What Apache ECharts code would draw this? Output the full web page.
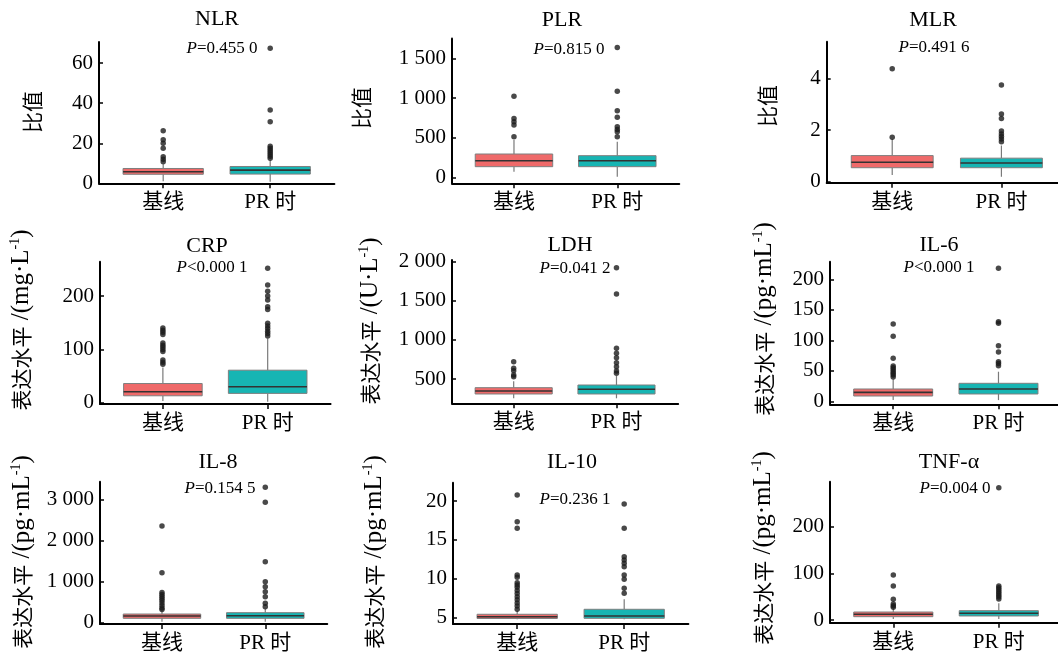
<!DOCTYPE html>
<html><head><meta charset="utf-8">
<script src="https://cdn.jsdelivr.net/npm/echarts@6/dist/echarts.min.js"></script>
<style>html,body{margin:0;padding:0;background:#fff}#c{width:1058px;height:661px}</style>
</head><body><div id="c"></div>
<script>
// ---------- data ----------
const groups = ['基线', 'PR 时'];
const titles = ['NLR', 'PLR', 'MLR', 'CRP', 'LDH', 'IL-6', 'IL-8', 'IL-10', 'TNF-α'];
const pValues = ['=0.455 0', '=0.815 0', '=0.491 6', '<0.000 1', '=0.041 2', '<0.000 1', '=0.154 5', '=0.236 1', '=0.004 0'];
const ratioName = '比值';
const levelName = '表达水平';
const units = [null, null, null, 'mg·L', 'U·L', 'pg·mL', 'pg·mL', 'pg·mL', 'pg·mL'];

// box stats: [lower whisker, Q1, median, Q3, upper whisker]
const nlrBase = [1.0, 4.5, 5.8, 7.4, 9.5];
const nlrPR = [0.8, 4.6, 6.6, 8.4, 11.5];
const nlrBaseOut = [26.2, 21.7, 20.0, 17.5, 13.3, 12.0, 10.8];
const nlrPROut = [67.5, 36.6, 30.8, 18.5, 17.5, 16.5, 15.5, 14.5, 13.5, 12.5];

const plrBase = [71, 134, 209, 294, 470];
const plrPR = [8, 134, 209, 273, 449];
const plrBaseOut = [1025, 744, 701, 660, 512];
const plrPROut = [1639, 1088, 840, 757, 638, 605, 575, 512];

const mlrBase = [0.26, 0.54, 0.75, 1.01, 1.65];
const mlrPR = [0.19, 0.54, 0.72, 0.91, 1.4];
const mlrBaseOut = [4.37, 1.72];
const mlrPROut = [3.74, 2.62, 2.45, 1.96, 1.85, 1.75, 1.65, 1.55];

const crpBase = [3, 13, 20.6, 36, 66];
const crpPR = [2, 17.5, 30, 61, 120.6];
const crpBaseOut = [140, 136, 132, 128, 112, 108, 104, 100, 96, 80, 76, 72];
const crpPROut = [252, 220.6, 209, 200, 192.5, 180, 175, 149, 144, 139, 134, 130, 125];

const ldhBase = [253, 308, 347, 389, 470];
const ldhPR = [253, 308, 368, 423, 540];
const ldhBaseOut = [721, 637, 606, 551, 529];
const ldhPROut = [1923, 1587, 893, 829, 772, 708, 657, 602, 573];

const il6Base = [2, 8.7, 14.7, 20.2, 36];
const il6PR = [2, 12, 20.2, 29.5, 48.5];
const il6BaseOut = [126.7, 106.5, 70.5, 58, 55, 52, 49, 46, 43, 40];
const il6PROut = [218, 130.5, 127.9, 91, 81, 65, 62, 58.4];

const il8Base = [20, 107, 163, 212, 280];
const il8PR = [20, 107, 171, 245, 340];
const il8BaseOut = [2364, 1222, 740, 690, 640, 590, 540, 480, 420, 360, 320];
const il8PROut = [3310, 2943, 1491, 1002, 880, 758, 636, 474, 391];

const il10Base = [4.8, 4.9, 5.13, 5.44, 5.9];
const il10PR = [4.8, 4.92, 5.22, 6.08, 7.36];
const il10BaseOut = [20.77, 17.34, 16.49, 10.5, 10.2, 9.5, 9.2, 8.9, 8.5, 8.1, 7.7, 7.3, 6.9, 6.5, 6.1];
const il10PROut = [19.6, 16.49, 12.84, 12.42, 11.99, 11.56, 10.49, 9.93, 8.78, 8.14];

const tnfBase = [2, 7.1, 12.2, 17.1, 25];
const tnfPR = [2, 8.6, 14.3, 20, 35.7];
const tnfBaseOut = [96.4, 72.8, 44.3, 34.3, 30.6, 27.2];
const tnfPROut = [283, 73, 69, 65, 61, 57, 53, 49, 45];

// tick labels
const nlrTicks = [0, 20, 40, 60];
const plrTicks = [0, 500, 1000, 1500];
const mlrTicks = [0, 2, 4];
const crpTicks = [0, 100, 200];
const ldhTicks = [500, 1000, 1500, 2000];
const il6Ticks = [0, 50, 100, 150, 200];
const il8Ticks = [0, 1000, 2000, 3000];
const il10Ticks = [5, 10, 15, 20];
const tnfTicks = [0, 100, 200];

// ---------- layout ----------
const stats = [
  [nlrBase, nlrPR, nlrBaseOut, nlrPROut, nlrTicks],
  [plrBase, plrPR, plrBaseOut, plrPROut, plrTicks],
  [mlrBase, mlrPR, mlrBaseOut, mlrPROut, mlrTicks],
  [crpBase, crpPR, crpBaseOut, crpPROut, crpTicks],
  [ldhBase, ldhPR, ldhBaseOut, ldhPROut, ldhTicks],
  [il6Base, il6PR, il6BaseOut, il6PROut, il6Ticks],
  [il8Base, il8PR, il8BaseOut, il8PROut, il8Ticks],
  [il10Base, il10PR, il10BaseOut, il10PROut, il10Ticks],
  [tnfBase, tnfPR, tnfBaseOut, tnfPROut, tnfTicks]
];
// left, top, bottom, spacing, ymin, ymax, title xy, p xy, name xy
const layout = [
  {l: 99, t: 42, b: 183.3, s: 107, y0: 0, y1: 70.6, tt: [217, 19], pp: [222, 49], nm: [32, 112]},
  {l: 452, t: 38.5, b: 183.3, s: 103.3, y0: -76, y1: 1753, tt: [562, 20], pp: [569, 50], nm: [361, 108]},
  {l: 826.7, t: 41.7, b: 182.7, s: 109.2, y0: -0.04, y1: 5.42, tt: [933, 20], pp: [934, 48], nm: [767, 106]},
  {l: 100, t: 261.7, b: 404, s: 104.8, y0: -2.4, y1: 264.5, tt: [207, 246], pp: [212, 268], nm: [21, 320]},
  {l: 452, t: 260, b: 403.3, s: 102.8, y0: 189, y1: 2022, tt: [570, 245], pp: [575, 269], nm: [370, 321]},
  {l: 830, t: 261.7, b: 404.3, s: 105.3, y0: -4.9, y1: 228.8, tt: [939, 245], pp: [939, 268], nm: [764, 319]},
  {l: 100, t: 481.7, b: 624, s: 103.3, y0: -32, y1: 3447, tt: [218, 462], pp: [220, 489], nm: [22, 552]},
  {l: 453, t: 482.7, b: 624, s: 107, y0: 4.19, y1: 22.35, tt: [572, 462], pp: [575, 500], nm: [374, 552]},
  {l: 830, t: 481.7, b: 622.7, s: 105.5, y0: -5.8, y1: 296, tt: [949, 462], pp: [955, 489], nm: [763, 548]}
];

const SERIF = 'Liberation Serif';
const CJK = 'Noto Sans CJK SC';
const boxColors = ['#EF6A6A', '#17B5B3'];
const fmt = v => String(v).replace(/\B(?=(\d{3})+(?!\d))/g, ' ');

function renderBox(params, api) {
  const x = api.value(0);
  const lo = api.coord([x, api.value(1)]);
  const q1 = api.coord([x, api.value(2)]);
  const md = api.coord([x, api.value(3)]);
  const q3 = api.coord([x, api.value(4)]);
  const hi = api.coord([x, api.value(5)]);
  const w = api.size([1, 0])[0] * 0.75;
  const cx = md[0];
  return {
    type: 'group',
    children: [
      {type: 'line', shape: {x1: cx, y1: lo[1], x2: cx, y2: q1[1]}, style: {stroke: '#7a7a7a', lineWidth: 1.2}},
      {type: 'line', shape: {x1: cx, y1: q3[1], x2: cx, y2: hi[1]}, style: {stroke: '#7a7a7a', lineWidth: 1.2}},
      {type: 'rect', shape: {x: cx - w / 2, y: q3[1], width: w, height: q1[1] - q3[1]},
        style: {fill: boxColors[params.dataIndex], stroke: '#7f7f7f', lineWidth: 1}},
      {type: 'line', shape: {x1: cx - w / 2, y1: md[1], x2: cx + w / 2, y2: md[1]}, style: {stroke: '#333', lineWidth: 1.6}}
    ]
  };
}

const grid = [], xAxis = [], yAxis = [], series = [], gfx = [];
layout.forEach((L, i) => {
  const [base, pr, baseOut, prOut, ticks] = stats[i];
  grid.push({left: L.l, top: L.t, width: L.s * 2.2, height: L.b - L.t, outerBoundsMode: 'none', containLabel: false});
  xAxis.push({
    gridIndex: i, type: 'value', min: 0.4, max: 2.6,
    axisLine: {show: true, onZero: false, lineStyle: {color: '#000', width: 2}},
    axisTick: {show: true, customValues: [1, 2], length: 5, lineStyle: {color: '#000', width: 1.5}},
    axisLabel: {customValues: [1, 2], formatter: v => groups[Math.round(v) - 1], fontSize: 21,
      fontFamily: SERIF + ', ' + CJK, color: '#000', margin: 9},
    splitLine: {show: false}
  });
  yAxis.push({
    gridIndex: i, type: 'value', min: L.y0, max: L.y1,
    axisLine: {show: true, onZero: false, lineStyle: {color: '#000', width: 2}},
    axisTick: {show: true, inside: true, length: 4, customValues: ticks, lineStyle: {color: '#000', width: 1.5}},
    axisLabel: {customValues: ticks, formatter: fmt, fontSize: 21, fontFamily: SERIF, color: '#000', margin: 6},
    splitLine: {show: false}
  });
  series.push({
    type: 'custom', xAxisIndex: i, yAxisIndex: i, renderItem: renderBox,
    encode: {x: 0, y: [1, 2, 3, 4, 5]},
    data: [[1].concat(base), [2].concat(pr)], z: 2
  });
  series.push({
    type: 'scatter', xAxisIndex: i, yAxisIndex: i, symbolSize: 5.5, z: 3,
    itemStyle: {color: '#1b1b1b'},
    data: baseOut.map(v => [1, v]).concat(prOut.map(v => [2, v]))
  });
  gfx.push({type: 'text', x: L.tt[0], y: L.tt[1],
    style: {text: titles[i], fontSize: 22, fontFamily: SERIF, fill: '#000', align: 'center', verticalAlign: 'middle'}});
  gfx.push({type: 'text', x: L.pp[0], y: L.pp[1],
    style: {text: '{i|P}{n|' + pValues[i] + '}', fill: '#000', align: 'center', verticalAlign: 'middle',
      rich: {i: {fontStyle: 'italic', fontFamily: SERIF, fontSize: 17, fill: '#000'},
             n: {fontFamily: SERIF, fontSize: 17, fill: '#000'}}}});
  const nameText = units[i] ? ('{c|' + levelName + '}{l| /(' + units[i] + '}{s|-1}{l|)}') : ('{c|' + ratioName + '}');
  gfx.push({type: 'text', x: L.nm[0], y: L.nm[1], rotation: Math.PI / 2,
    style: {text: nameText, fill: '#000', align: 'center', verticalAlign: 'middle',
      rich: {c: {fontFamily: CJK, fontSize: 21, fill: '#000'},
             l: {fontFamily: SERIF, fontSize: 25, fill: '#000'},
             s: {fontFamily: SERIF, fontSize: 14, fill: '#000', verticalAlign: 'top'}}}});
});

const chart = echarts.init(document.getElementById('c'), null, {renderer: 'canvas'});
chart.setOption({
  animation: false,
  backgroundColor: '#fff',
  grid, xAxis, yAxis, series,
  graphic: {elements: gfx}
});
</script>
</body></html>
